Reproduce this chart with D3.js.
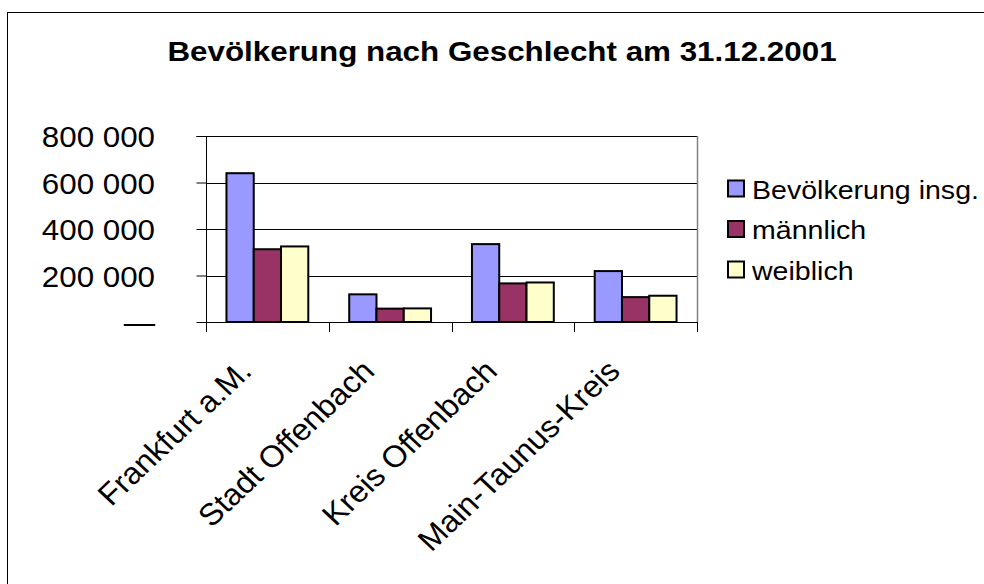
<!DOCTYPE html>
<html><head><meta charset="utf-8">
<script src="https://cdn.jsdelivr.net/npm/d3@7/dist/d3.min.js"></script>
<style>html,body{margin:0;padding:0;background:#fff;}svg{display:block;}</style>
</head><body>
<script>
const title = "Bevölkerung nach Geschlecht am 31.12.2001";
const categories = ["Frankfurt a.M.", "Stadt Offenbach", "Kreis Offenbach", "Main-Taunus-Kreis"];
const seriesNames = ["Bevölkerung insg.", "männlich", "weiblich"];
const seriesColors = ["#9999FF", "#993366", "#FFFFCC"];
const insgesamt = [640000, 119000, 335000, 219000];
const maennlich = [313000, 57500, 166000, 107000];
const weiblich = [325000, 58500, 170000, 113000];
const yTicks = [0, 200000, 400000, 600000, 800000];
const yTickLabels = ["—", "200 000", "400 000", "600 000", "800 000"];

const series = [insgesamt, maennlich, weiblich];
const W = 984, H = 584, SX = 1.12;
const FONT = "'Liberation Sans', Arial, sans-serif";
const svg = d3.select("body").append("svg").attr("width", W).attr("height", H);

// outer frame (only top/left visible)
svg.append("rect").attr("x", 7.5).attr("y", 12.5).attr("width", 1000).attr("height", 600)
  .attr("fill", "#fff").attr("stroke", "#000").attr("stroke-width", 1);

const m = {l: 206, r: 697, t: 136, b: 322};
const x0 = d3.scaleBand().domain(categories).range([m.l, m.r]).paddingInner(0).paddingOuter(0);
const inner = d3.scaleBand().domain(seriesNames).range([0, x0.bandwidth()]).paddingOuter(0.75).paddingInner(0);
const y = d3.scaleLinear().domain([0, 800000]).range([m.b, m.t]);

// gridlines
svg.append("g").selectAll("line").data(yTicks.slice(1)).join("line")
  .attr("x1", m.l).attr("x2", m.r)
  .attr("y1", d => Math.round(y(d)) + 0.5).attr("y2", d => Math.round(y(d)) + 0.5)
  .attr("stroke", "#000").attr("stroke-width", 1);
// right border
svg.append("line").attr("x1", m.r + 0.5).attr("x2", m.r + 0.5).attr("y1", m.t).attr("y2", m.b)
  .attr("stroke", "#808080").attr("stroke-width", 1.5);

// bars
const g = svg.append("g");
categories.forEach((c, i) => {
  series.forEach((s, j) => {
    g.append("rect")
      .attr("x", x0(c) + inner(seriesNames[j]))
      .attr("y", y(s[i]))
      .attr("width", inner.bandwidth())
      .attr("height", y(0) - y(s[i]))
      .attr("fill", seriesColors[j])
      .attr("stroke", "#000").attr("stroke-width", 2);
  });
});

// y axis
const yAxis = d3.axisLeft(y).tickValues(yTicks).tickSize(10).tickFormat("");
const ya = svg.append("g").attr("transform", `translate(${m.l + 0.5},0)`).call(yAxis);
ya.selectAll("path,line").attr("stroke", "#000");
ya.select(".domain").attr("d", `M-10,${m.t + 0.5}H0V${m.b + 0.5}`);

// y tick labels
svg.append("g").selectAll("text").data(yTicks).join("text")
  .attr("transform", d => `translate(155,${y(d) + 11}) scale(1.08,1)`)
  .attr("text-anchor", "end")
  .attr("font-family", FONT).attr("font-size", 29).attr("fill", "#000")
  .text((d, i) => yTickLabels[i]);

// x axis
const xa = svg.append("g").attr("transform", `translate(0,${m.b + 0.5})`)
  .call(d3.axisBottom(x0).tickSize(0).tickFormat(""));
xa.select(".domain").attr("stroke", "#000").attr("d", `M${m.l},0H${m.r}`);
const bounds = d3.range(categories.length + 1).map(i => m.l + i * x0.step());
svg.append("g").selectAll("line").data(bounds).join("line")
  .attr("x1", d => Math.round(d) + 0.5).attr("x2", d => Math.round(d) + 0.5)
  .attr("y1", m.b).attr("y2", m.b + 10).attr("stroke", "#000");

// category labels
svg.append("g").selectAll("text").data(categories).join("text")
  .attr("transform", d => `translate(${x0(d) + x0.bandwidth() / 2 - 14},373) scale(1.06,1) rotate(-45)`)
  .attr("text-anchor", "end")
  .attr("font-family", FONT).attr("font-size", 30.5).attr("fill", "#000")
  .text(d => d);

// title
svg.append("text")
  .attr("transform", `translate(502,61) scale(${SX},1)`)
  .attr("text-anchor", "middle")
  .attr("font-family", FONT).attr("font-weight", "bold").attr("font-size", 28).attr("fill", "#000")
  .text(title);

// legend
const lg = svg.append("g");
seriesNames.forEach((n, j) => {
  const cy = 189 + j * 40.5;
  lg.append("rect").attr("x", 728).attr("y", cy - 8.5).attr("width", 16).attr("height", 16)
    .attr("fill", seriesColors[j]).attr("stroke", "#000").attr("stroke-width", 2);
  lg.append("text")
    .attr("transform", `translate(752,${cy + 9.5}) scale(${SX},1)`)
    .attr("font-family", FONT).attr("font-size", 25.5).attr("fill", "#000")
    .text(n);
});
</script>
</body></html>
